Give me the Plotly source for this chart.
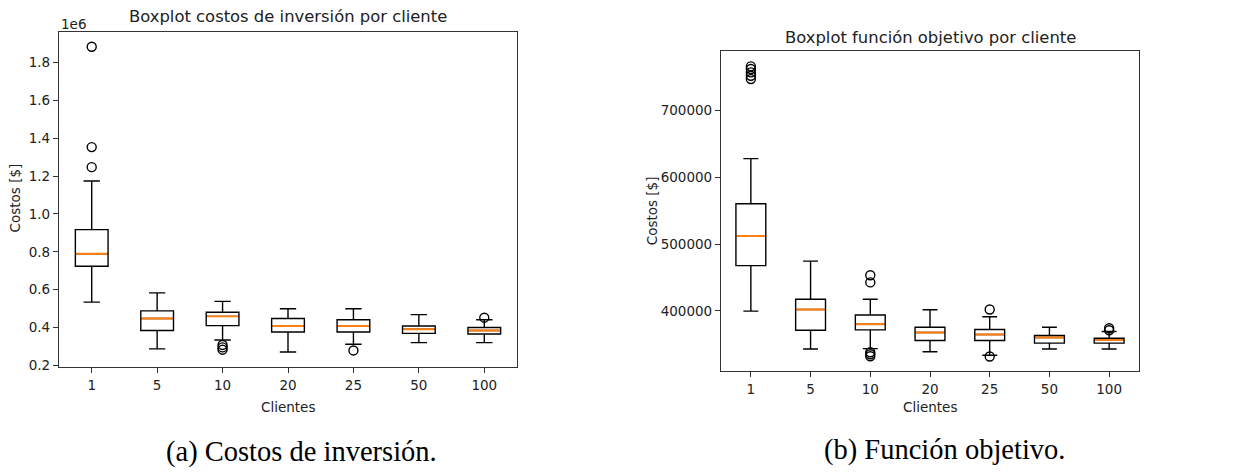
import plotly.graph_objects as go

W, H = 1241, 474

clientes = ["1", "5", "10", "20", "25", "50", "100"]
pos = [1, 2, 3, 4, 5, 6, 7]

# --- Costos de inversión (units: $) ---
inv_low = [534000, 287000, 334000, 271000, 312000, 320000, 320000]
inv_q1 = [724000, 384000, 410000, 376000, 376000, 369000, 366000]
inv_med = [790000, 448000, 459000, 408000, 408000, 391000, 384000]
inv_q3 = [917000, 488000, 481000, 448000, 441000, 408000, 400000]
inv_high = [1174000, 583000, 538000, 499000, 499000, 468000, 441000]
inv_out_x = ["1", "1", "1", "10", "10", "10", "25", "100"]
inv_out_y = [1883000, 1353000, 1247000, 308000, 295000, 283000, 279000, 452000]

# --- Función objetivo (units: $) ---
fo_low = [399500, 342700, 343300, 338700, 333400, 342700, 342700]
fo_q1 = [467600, 370900, 371400, 355600, 355600, 351600, 351600]
fo_med = [512000, 401900, 379800, 367400, 364500, 360100, 356100]
fo_q3 = [560200, 417300, 393600, 375300, 371900, 363000, 359000]
fo_high = [627800, 474400, 417300, 401500, 391100, 375300, 368900]
fo_out_x = ["1", "1", "1", "1", "1", "10", "10", "10", "10", "10", "25", "25", "100", "100"]
fo_out_y = [747000, 752000, 757000, 762000, 766000, 453300, 442500,
            338000, 335000, 332000, 402000, 331500, 373800, 370900]

inv_ticks = [0.2, 0.4, 0.6, 0.8, 1.0, 1.2, 1.4, 1.6, 1.8]
fo_ticks = [400000, 500000, 600000, 700000]

BOX_W = 0.5
FONT = "DejaVu Sans"
pmap = dict(zip(clientes, pos))

fig = go.Figure()


def add_panel(low, q1, med, q3, high, out_x, out_y, xa, ya):
    fig.add_trace(go.Box(
        x=pos, q1=q1, median=med, q3=q3, lowerfence=low, upperfence=high,
        width=BOX_W, whiskerwidth=0.5, fillcolor="rgba(255,255,255,0)",
        line=dict(color="black", width=1.4), boxpoints=False,
        xaxis=xa, yaxis=ya, showlegend=False, hoverinfo="skip"))
    for p, m in zip(pos, med):
        fig.add_trace(go.Scatter(
            x=[p - BOX_W / 2 + 0.012, p + BOX_W / 2 - 0.012], y=[m, m], mode="lines",
            line=dict(color="#ff7f0e", width=1.9), xaxis=xa, yaxis=ya,
            showlegend=False, hoverinfo="skip"))
    fig.add_trace(go.Scatter(
        x=[pmap[c] for c in out_x], y=out_y, mode="markers",
        marker=dict(symbol="circle-open", size=9, color="black", line=dict(width=1.4)),
        xaxis=xa, yaxis=ya, showlegend=False, hoverinfo="skip"))


add_panel(inv_low, inv_q1, inv_med, inv_q3, inv_high, inv_out_x, inv_out_y, "x", "y")
add_panel(fo_low, fo_q1, fo_med, fo_q3, fo_high, fo_out_x, fo_out_y, "x2", "y2")

L1 = (59, 517, 32, 372)
L2 = (721, 1139, 52, 376)

axis_common = dict(showline=True, mirror=True, linecolor="#333", linewidth=1.2,
                   ticks="outside", ticklen=5, tickcolor="#333", tickwidth=1.1,
                   showgrid=False, zeroline=False,
                   tickfont=dict(family=FONT, size=13.5, color="#222"))

fig.update_layout(
    width=W, height=H, margin=dict(l=0, r=0, t=0, b=0),
    paper_bgcolor="white", plot_bgcolor="white",
    xaxis=dict(domain=[L1[0] / W, L1[1] / W], anchor="y", range=[0.5, 7.5],
               tickvals=pos, ticktext=clientes, **axis_common),
    yaxis=dict(domain=[1 - L1[3] / H, 1 - L1[2] / H], anchor="x",
               range=[190000, 1963000],
               tickvals=[t * 1e6 for t in inv_ticks],
               ticktext=[f"{t:.1f}" for t in inv_ticks], **axis_common),
    xaxis2=dict(domain=[L2[0] / W, L2[1] / W], anchor="y2", range=[0.5, 7.5],
                tickvals=pos, ticktext=clientes, **axis_common),
    yaxis2=dict(domain=[1 - L2[3] / H, 1 - L2[2] / H], anchor="x2",
                range=[309500, 788500],
                tickvals=fo_ticks, ticktext=[str(t) for t in fo_ticks], **axis_common),
)

txt = dict(family=FONT, color="#222")
ann = [
    dict(text="Boxplot costos de inversión por cliente", x=(L1[0] + L1[1]) / 2 / W,
         y=1 - 17 / H, font=dict(size=16.4, **txt)),
    dict(text="Boxplot función objetivo por cliente", x=(L2[0] + L2[1]) / 2 / W,
         y=1 - 38 / H, font=dict(size=16.4, **txt)),
    dict(text="1e6", x=L1[0] / W, y=1 - 24 / H, xanchor="left",
         font=dict(size=13.5, **txt)),
    dict(text="Clientes", x=(L1[0] + L1[1]) / 2 / W, y=1 - 412 / H,
         font=dict(size=13.5, **txt)),
    dict(text="Clientes", x=(L2[0] + L2[1]) / 2 / W, y=1 - 412 / H,
         font=dict(size=13.5, **txt)),
    dict(text="Costos [$]", x=15 / W, y=1 - 201 / H, textangle=-90,
         font=dict(size=13.5, **txt)),
    dict(text="Costos [$]", x=652 / W, y=1 - 214 / H, textangle=-90,
         font=dict(size=13.5, **txt)),
    dict(text="(a) Costos de inversión.", x=301 / W, y=1 - 458 / H,
         font=dict(family="Liberation Serif", size=28.5, color="black")),
    dict(text="(b) Función objetivo.", x=944 / W, y=1 - 456 / H,
         font=dict(family="Liberation Serif", size=28.5, color="black")),
]
for a in ann:
    a.setdefault("xanchor", "center")
    a.update(xref="paper", yref="paper", yanchor="middle", showarrow=False)
fig.update_layout(annotations=ann)

fig.write_html("out.html", config={"displayModeBar": False},
               post_script="document.body.style.margin='0px';")
